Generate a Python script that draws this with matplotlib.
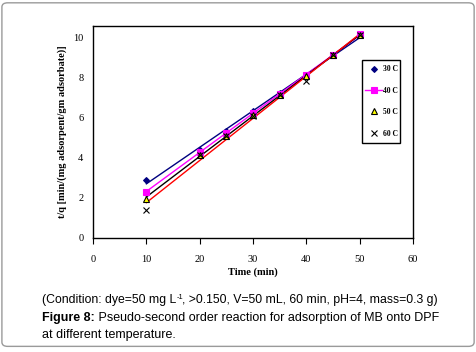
import numpy as np
import matplotlib
matplotlib.use("Agg")
import matplotlib.pyplot as plt
from matplotlib.lines import Line2D
from matplotlib.patches import FancyBboxPatch, Rectangle

time = [10, 20, 25, 30, 35, 40, 45, 50]
t30 = [2.9, 4.4, 5.3, 6.3, 7.2, 8.1, 9.1, 10.1]
t40 = [2.3, 4.3, 5.25, 6.2, 7.15, 8.1, 9.1, 10.15]
t50 = [1.95, 4.15, 5.1, 6.1, 7.1, 8.05, 9.1, 10.1]
t60 = [1.4, 4.15, 5.1, 6.05, 7.1, 7.8, 9.1, 10.1]
labels = ["30 C", "40 C", "50 C", "60 C"]
xticks = [0, 10, 20, 30, 40, 50, 60]
yticks = [0, 2, 4, 6, 8, 10]

serif = ["Liberation Serif", "DejaVu Serif"]
sans = ["Liberation Sans", "DejaVu Sans"]

fig = plt.figure(figsize=(4.77, 3.52), dpi=100)
border = FancyBboxPatch((0.004, 0.016), 0.99, 0.976, boxstyle="round,pad=0,rounding_size=0.012",
                        transform=fig.transFigure, facecolor="white", edgecolor="#9a9a9a",
                        linewidth=1.0, zorder=-1)
fig.patches.append(border)

ax = fig.add_axes([0.195, 0.324, 0.671, 0.602])
x = np.array(time, dtype=float)

styles = [
    dict(marker="D", mfc="#000080", mec="#000080", ms=3.0, line="#000080"),
    dict(marker="s", mfc="#ff00ff", mec="#ff00ff", ms=5, line="#ff00ff"),
    dict(marker="^", mfc="#ffff00", mec="#000000", ms=4, line="#000000"),
    dict(marker="x", mfc="#000000", mec="#000000", ms=4, line="#ff0000"),
]
series = [t30, t40, t50, t60]
for ys, st in zip(series, styles):
    y = np.array(ys)
    k, b = np.polyfit(x, y, 1)
    xx = np.array([10, 50])
    ax.plot(xx, k * xx + b, color=st["line"], lw=1.0, zorder=2)
for ys, st in zip(series, styles):
    ax.plot(x, ys, linestyle="none", marker=st["marker"], mfc=st["mfc"], mec=st["mec"],
            ms=st["ms"], mew=0.8, zorder=3)

ax.set_xlim(0, 60)
ax.set_ylim(0, 10.55)
ax.set_xticks(xticks)
ax.set_yticks(yticks)
ax.tick_params(axis="x", direction="out", length=4, width=0.8, labelsize=7.5, pad=8)
ax.tick_params(axis="y", length=0, labelsize=7.5, pad=7)
for lab in ax.get_xticklabels() + ax.get_yticklabels():
    lab.set_family(serif)
for s in ax.spines.values():
    s.set_linewidth(1.0)
ax.set_xlabel("Time (min)", family=serif, fontweight="bold", fontsize=7.5, labelpad=3)
ax.set_ylabel("t/q [min/(mg adsorpent/gm adsorbate)]", family=serif, fontweight="bold",
              fontsize=7.5, labelpad=4)

handles = []
for i, st in enumerate(styles):
    ls = "-" if i == 1 else "none"
    handles.append(Line2D([0], [0], linestyle=ls, color=st["line"], lw=1.0, marker=st["marker"],
                          mfc=st["mfc"], mec=st["mec"], ms=st["ms"], mew=0.8))
leg = ax.legend(handles, labels, loc="center", bbox_to_anchor=(0.902, 0.644),
                frameon=False, prop={"family": serif, "weight": "bold", "size": 5.5},
                labelspacing=1.75, handlelength=2.2, handletextpad=0.1, borderpad=0,
                borderaxespad=0)
ax.add_patch(Rectangle((0.841, 0.448), 0.118, 0.392, transform=ax.transAxes,
                       facecolor="white", edgecolor="black", lw=1.0, zorder=4))
leg.set_zorder(5)

fs = 9.0
fs1 = 8.8
c1 = fig.text(0.088, 0.138, "(Condition: dye=50 mg L", family=sans, fontsize=fs1, va="baseline")
ax.annotate("-1", xy=(1, 0), xycoords=c1, xytext=(0.3, 4.0), textcoords="offset points",
            va="bottom", ha="left", family=sans, fontsize=5.3, annotation_clip=False)
ax.annotate(", >0.150, V=50 mL, 60 min, pH=4, mass=0.3 g)", xy=(1, 0), xycoords=c1,
            xytext=(4.5, 0), textcoords="offset points",
            va="bottom", ha="left", family=sans, fontsize=fs1, annotation_clip=False)
t1 = fig.text(0.088, 0.088, "Figure 8:", family=sans, fontsize=fs, fontweight="bold", va="baseline")
ax.annotate(" Pseudo-second order reaction for adsorption of MB onto DPF", xy=(1, 0),
            xycoords=t1, va="bottom", ha="left", family=sans, fontsize=fs, annotation_clip=False)
fig.text(0.088, 0.040, "at different temperature.", family=sans, fontsize=fs, va="baseline")

fig.savefig("out.png", dpi=100)
